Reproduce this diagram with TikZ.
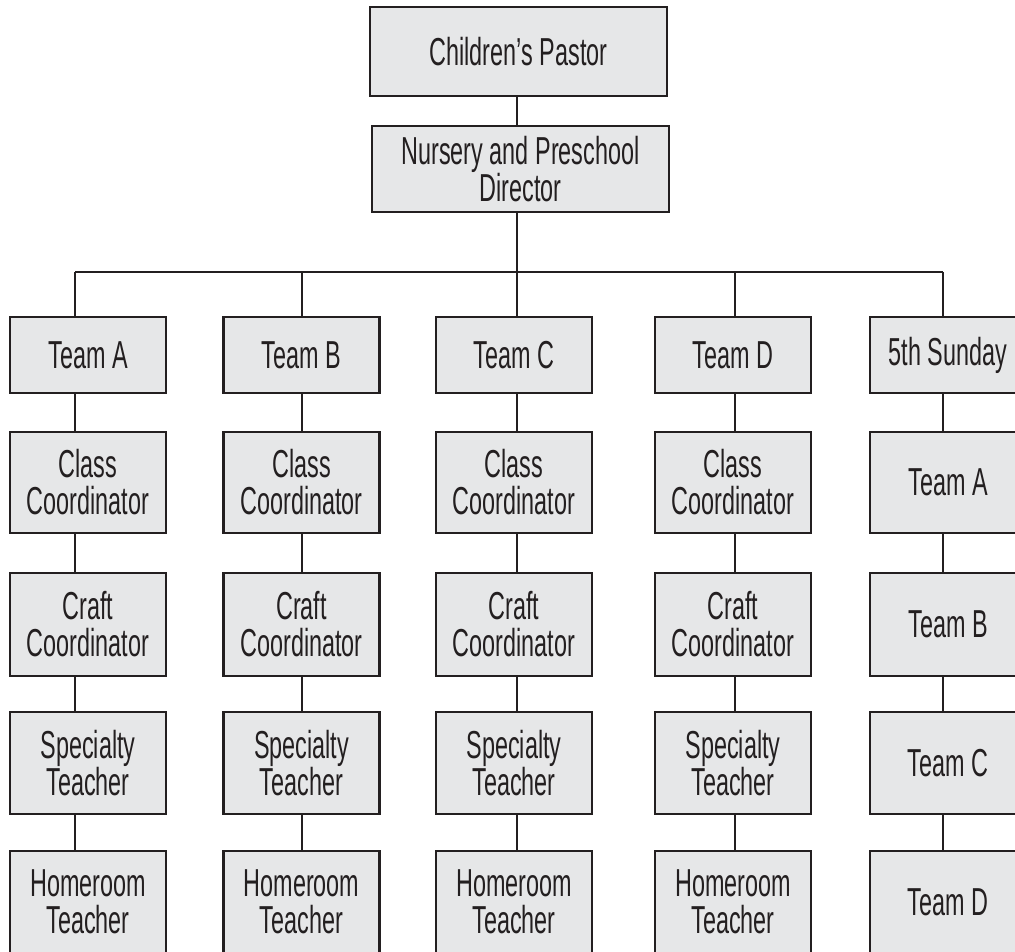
\documentclass[tikz,border=0pt]{standalone}
\usepackage{fontspec}
\setmainfont{Liberation Sans}[FakeStretch=0.6]
\definecolor{boxfill}{HTML}{E6E7E8}
\definecolor{ink}{HTML}{231F20}
\begin{document}
\begin{tikzpicture}[x=0.5pt,y=-0.5pt,
  box/.style={draw=ink, line width=1.3pt, fill=boxfill, inner sep=0pt, align=center,
    font=\fontsize{19.5pt}{18.5pt}\selectfont, text=ink},
  cbox/.style={box, minimum width=78pt},
  link/.style={draw=ink, line width=1.2pt}]
\clip (0,0) rectangle (1015,951);
\fill[white] (0,0) rectangle (1015,951);
% column x positions of connectors
\coordinate (xA) at (75,272);
\coordinate (xB) at (302,272);
\coordinate (xC) at (517,272);
\coordinate (xD) at (735,272);
\coordinate (xE) at (943,272);
% top
\node[box, minimum width=148.5pt, minimum height=44.5pt] (cp) at (518.5,51.5) {Children’s Pastor};
\node[box, minimum width=148.5pt, minimum height=43pt] (dir) at (520.5,169) {Nursery and Preschool\\Director};
\draw[link] (cp.south -| xC) -- (dir.north -| xC);
\draw[link] (dir.south -| xC) -- (xC);
\draw[link] (xA) -- (xE);
% team columns
\foreach \c/\cx in {A/88, B/301.5, C/514, D/733} {
  \node[cbox, minimum height=38pt] (t\c) at (\cx,355) {Team \c};
  \node[cbox, minimum height=50.5pt] (cl\c) at (\cx,482.5) {Class\\Coordinator};
  \node[cbox, minimum height=51.5pt] (cr\c) at (\cx,624.5) {Craft\\Coordinator};
  \node[cbox, minimum height=51pt] (sp\c) at (\cx,763) {Specialty\\Teacher};
  \node[cbox, minimum height=51pt] (hr\c) at (\cx,902) {Homeroom\\Teacher};
  \draw[link] (x\c) -- (t\c.north -| x\c);
  \draw[link] (t\c.south -| x\c) -- (cl\c.north -| x\c);
  \draw[link] (cl\c.south -| x\c) -- (cr\c.north -| x\c);
  \draw[link] (cr\c.south -| x\c) -- (sp\c.north -| x\c);
  \draw[link] (sp\c.south -| x\c) -- (hr\c.north -| x\c);
}
% 5th Sunday column
\node[cbox, minimum height=38pt] (tE) at (948,355) {5th Sunday};
\node[cbox, minimum height=50.5pt] (eA) at (948,482.5) {Team A};
\node[cbox, minimum height=51.5pt] (eB) at (948,624.5) {Team B};
\node[cbox, minimum height=51pt] (eC) at (948,763) {Team C};
\node[cbox, minimum height=51pt] (eD) at (948,902) {Team D};
\draw[link] (xE) -- (tE.north -| xE);
\draw[link] (tE.south -| xE) -- (eA.north -| xE);
\draw[link] (eA.south -| xE) -- (eB.north -| xE);
\draw[link] (eB.south -| xE) -- (eC.north -| xE);
\draw[link] (eC.south -| xE) -- (eD.north -| xE);
\end{tikzpicture}
\end{document}
